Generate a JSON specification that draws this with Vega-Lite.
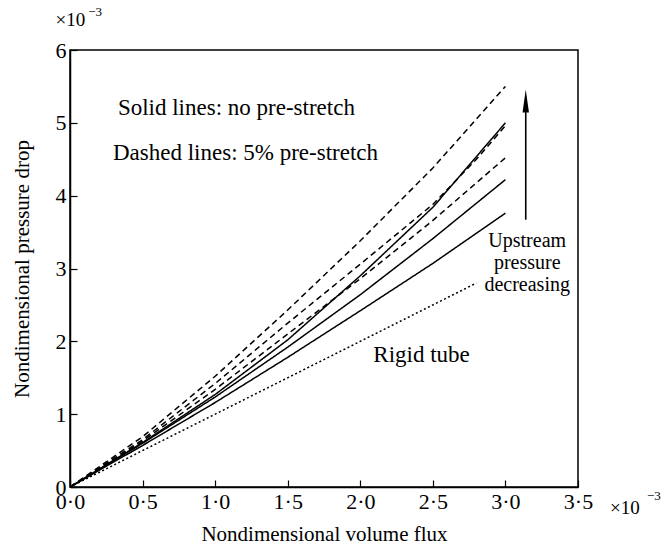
{
  "$schema": "https://vega.github.io/schema/vega-lite/v6.json",
  "width": 508,
  "height": 437,
  "autosize": {"type": "none"},
  "padding": {"left": 70, "top": 50, "right": 89, "bottom": 65},
  "background": "white",
  "config": {
    "view": {"stroke": "black", "strokeWidth": 1.5},
    "font": "Liberation Serif",
    "text": {"font": "Liberation Serif", "color": "black"}
  },
  "datasets": {
    "curves": [
      {"curve": "S1", "kind": "solid", "x": 0, "y": 0},
      {"curve": "S1", "kind": "solid", "x": 0.5, "y": 0.57},
      {"curve": "S1", "kind": "solid", "x": 1.0, "y": 1.16},
      {"curve": "S1", "kind": "solid", "x": 1.5, "y": 1.78},
      {"curve": "S1", "kind": "solid", "x": 2.0, "y": 2.42},
      {"curve": "S1", "kind": "solid", "x": 2.5, "y": 3.07},
      {"curve": "S1", "kind": "solid", "x": 3.0, "y": 3.76},
      {"curve": "S2", "kind": "solid", "x": 0, "y": 0},
      {"curve": "S2", "kind": "solid", "x": 0.5, "y": 0.6},
      {"curve": "S2", "kind": "solid", "x": 1.0, "y": 1.235},
      {"curve": "S2", "kind": "solid", "x": 1.5, "y": 1.92},
      {"curve": "S2", "kind": "solid", "x": 2.0, "y": 2.64},
      {"curve": "S2", "kind": "solid", "x": 2.5, "y": 3.41},
      {"curve": "S2", "kind": "solid", "x": 3.0, "y": 4.22},
      {"curve": "S3", "kind": "solid", "x": 0, "y": 0},
      {"curve": "S3", "kind": "solid", "x": 0.5, "y": 0.61},
      {"curve": "S3", "kind": "solid", "x": 1.0, "y": 1.27},
      {"curve": "S3", "kind": "solid", "x": 1.5, "y": 2.02},
      {"curve": "S3", "kind": "solid", "x": 2.0, "y": 2.9},
      {"curve": "S3", "kind": "solid", "x": 2.5, "y": 3.84},
      {"curve": "S3", "kind": "solid", "x": 3.0, "y": 5.0},
      {"curve": "D3", "kind": "dashed", "x": 0, "y": 0},
      {"curve": "D3", "kind": "dashed", "x": 0.5, "y": 0.63},
      {"curve": "D3", "kind": "dashed", "x": 1.0, "y": 1.34},
      {"curve": "D3", "kind": "dashed", "x": 1.5, "y": 2.1},
      {"curve": "D3", "kind": "dashed", "x": 2.0, "y": 2.86},
      {"curve": "D3", "kind": "dashed", "x": 2.5, "y": 3.66},
      {"curve": "D3", "kind": "dashed", "x": 3.0, "y": 4.52},
      {"curve": "D2", "kind": "dashed", "x": 0, "y": 0},
      {"curve": "D2", "kind": "dashed", "x": 0.5, "y": 0.65},
      {"curve": "D2", "kind": "dashed", "x": 1.0, "y": 1.42},
      {"curve": "D2", "kind": "dashed", "x": 1.5, "y": 2.25},
      {"curve": "D2", "kind": "dashed", "x": 2.0, "y": 3.06},
      {"curve": "D2", "kind": "dashed", "x": 2.5, "y": 3.88},
      {"curve": "D2", "kind": "dashed", "x": 2.8, "y": 4.5},
      {"curve": "D2", "kind": "dashed", "x": 3.0, "y": 4.96},
      {"curve": "D1", "kind": "dashed", "x": 0, "y": 0},
      {"curve": "D1", "kind": "dashed", "x": 0.5, "y": 0.69},
      {"curve": "D1", "kind": "dashed", "x": 1.0, "y": 1.52},
      {"curve": "D1", "kind": "dashed", "x": 1.5, "y": 2.43},
      {"curve": "D1", "kind": "dashed", "x": 2.0, "y": 3.38},
      {"curve": "D1", "kind": "dashed", "x": 2.5, "y": 4.38},
      {"curve": "D1", "kind": "dashed", "x": 3.0, "y": 5.5},
      {"curve": "R", "kind": "dotted", "x": 0, "y": 0},
      {"curve": "R", "kind": "dotted", "x": 2.8, "y": 2.8}
    ],
    "notesLeft": [
      {"x": 0.33, "y": 5.11, "label": "Solid lines: no pre-stretch"},
      {"x": 0.296, "y": 4.49, "label": "Dashed lines: 5% pre-stretch"},
      {"x": 2.09, "y": 1.72, "label": "Rigid tube"}
    ],
    "notesCenter": [
      {"x": 3.15, "y": 3.38, "label": "Upstream\npressure\ndecreasing"}
    ],
    "expBase": [
      {"x": -0.1, "y": 6.41, "label": "×10"},
      {"x": 3.72, "y": -0.29, "label": "×10"}
    ],
    "expPow": [
      {"x": 0.125, "y": 6.52, "label": "−3"},
      {"x": 3.975, "y": -0.13, "label": "−3"}
    ],
    "arrow": [
      {"x": 3.14, "y": 3.67, "y2": 5.25}
    ],
    "arrowHead": [
      {"x": 3.14, "y": 5.3}
    ]
  },
  "layer": [
    {
      "data": {"name": "curves"},
      "mark": {"type": "line", "color": "black", "strokeWidth": 1.5, "clip": true},
      "encoding": {
        "x": {
          "field": "x",
          "type": "quantitative",
          "scale": {"domain": [0, 3.5], "nice": false, "zero": false},
          "axis": {
            "title": "Nondimensional volume flux",
            "values": [0, 0.5, 1, 1.5, 2, 2.5, 3, 3.5],
            "labelExpr": "replace(format(datum.value, '.1f'), '.', '·')",
            "labelFlush": false,
            "labelOverlap": false,
            "grid": false,
            "tickSize": -7,
            "tickColor": "black",
            "tickWidth": 1.2,
            "labelPadding": 11,
            "labelFontSize": 22,
            "labelFont": "Liberation Serif",
            "labelColor": "black",
            "titleFont": "Liberation Serif",
            "titleFontSize": 21,
            "titleFontWeight": "normal",
            "titleColor": "black",
            "titlePadding": 11,
            "domainColor": "black",
            "domainWidth": 1.5
          }
        },
        "y": {
          "field": "y",
          "type": "quantitative",
          "scale": {"domain": [0, 6], "nice": false, "zero": false},
          "axis": {
            "title": "Nondimensional pressure drop",
            "values": [0, 1, 2, 3, 4, 5, 6],
            "format": "d",
            "labelFlush": false,
            "labelOverlap": false,
            "grid": false,
            "tickSize": -7,
            "tickColor": "black",
            "tickWidth": 1.2,
            "labelPadding": 11,
            "labelFontSize": 22,
            "labelFont": "Liberation Serif",
            "labelColor": "black",
            "titleFont": "Liberation Serif",
            "titleFontSize": 21,
            "titleFontWeight": "normal",
            "titleColor": "black",
            "titlePadding": 23,
            "domainColor": "black",
            "domainWidth": 1.5
          }
        },
        "detail": {"field": "curve"},
        "strokeDash": {
          "field": "kind",
          "type": "nominal",
          "scale": {"domain": ["solid", "dashed", "dotted"], "range": [[1, 0], [6, 4], [2, 2.5]]},
          "legend": null
        }
      }
    },
    {
      "data": {"name": "notesLeft"},
      "mark": {"type": "text", "align": "left", "baseline": "alphabetic", "fontSize": 23, "font": "Liberation Serif", "color": "black"},
      "encoding": {
        "x": {"field": "x", "type": "quantitative"},
        "y": {"field": "y", "type": "quantitative"},
        "text": {"field": "label"}
      }
    },
    {
      "data": {"name": "notesCenter"},
      "mark": {"type": "text", "align": "center", "baseline": "middle", "fontSize": 20, "lineHeight": 22, "lineBreak": "\n", "font": "Liberation Serif", "color": "black"},
      "encoding": {
        "x": {"field": "x", "type": "quantitative"},
        "y": {"field": "y", "type": "quantitative"},
        "text": {"field": "label"}
      }
    },
    {
      "data": {"name": "expBase"},
      "mark": {"type": "text", "align": "left", "baseline": "middle", "fontSize": 19, "font": "Liberation Serif", "color": "black"},
      "encoding": {
        "x": {"field": "x", "type": "quantitative"},
        "y": {"field": "y", "type": "quantitative"},
        "text": {"field": "label"}
      }
    },
    {
      "data": {"name": "expPow"},
      "mark": {"type": "text", "align": "left", "baseline": "middle", "fontSize": 13, "font": "Liberation Serif", "color": "black"},
      "encoding": {
        "x": {"field": "x", "type": "quantitative"},
        "y": {"field": "y", "type": "quantitative"},
        "text": {"field": "label"}
      }
    },
    {
      "data": {"name": "arrow"},
      "mark": {"type": "rule", "color": "black", "strokeWidth": 1.6},
      "encoding": {
        "x": {"field": "x", "type": "quantitative"},
        "y": {"field": "y", "type": "quantitative"},
        "y2": {"field": "y2"}
      }
    },
    {
      "data": {"name": "arrowHead"},
      "mark": {"type": "point", "shape": "M0,-1L0.28,1L-0.28,1Z", "size": 529, "filled": true, "color": "black", "opacity": 1},
      "encoding": {
        "x": {"field": "x", "type": "quantitative"},
        "y": {"field": "y", "type": "quantitative"}
      }
    }
  ]
}
